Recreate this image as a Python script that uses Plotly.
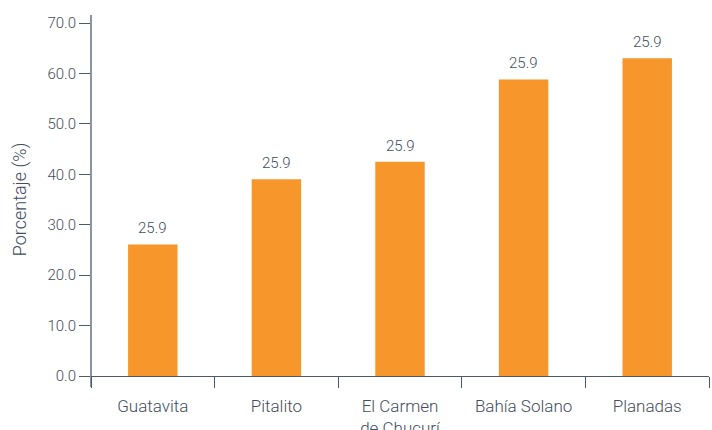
import plotly.graph_objects as go

categories = ["Guatavita", "Pitalito", "El Carmen<br>de Chucurí", "Bahía Solano", "Planadas"]
values = [26.1, 39.0, 42.5, 58.8, 63.0]
labels = ["25.9", "25.9", "25.9", "25.9", "25.9"]
y_ticks = [0, 10, 20, 30, 40, 50, 60, 70]
y_ticktext = ["0.0", "10.0", "20.0", "30.0", "40.0", "50.0", "60.0", "70.0"]

TEXT = "#3f4e5d"
AXIS = "#4b5a69"
BAR = "#f7962b"
FONT = "Roboto"
W = 300

fig = go.Figure()
fig.add_trace(go.Bar(x=categories, y=values, marker=dict(color=BAR, line=dict(width=0)),
                     width=0.4, hoverinfo="skip"))

for c, v, t in zip(categories, values, labels):
    fig.add_annotation(x=c, y=v, text=t, showarrow=False, yanchor="bottom", yshift=5,
                       font=dict(family=FONT, size=15, color=TEXT, weight=W))

fig.add_shape(type="line", xref="paper", yref="paper", x0=0, x1=0, y0=-0.031, y1=1.023,
              line=dict(color=AXIS, width=1.3))

fig.update_layout(
    width=712, height=430,
    margin=dict(l=91, r=3, t=23, b=54),
    plot_bgcolor="white", paper_bgcolor="white",
    showlegend=False,
    font=dict(family=FONT, color=TEXT, size=15, weight=W),
    xaxis=dict(
        showline=True, linecolor=AXIS, linewidth=1.3,
        ticks="outside", ticklen=11, tickcolor=AXIS, tickwidth=1.3,
        tickson="boundaries", showgrid=False, zeroline=False,
        ticklabelstandoff=14, automargin=False,
        tickfont=dict(family=FONT, size=17, color=TEXT, weight=W),
    ),
    yaxis=dict(
        range=[0, 70], tickvals=y_ticks, ticktext=y_ticktext,
        showline=False, ticks="outside", ticklen=11, tickcolor=AXIS, tickwidth=1.3,
        showgrid=False, zeroline=False, automargin=False,
        tickfont=dict(family=FONT, size=15, color=TEXT, weight=W),
        title=dict(text="Porcentaje (%)", font=dict(family=FONT, size=18, color=TEXT, weight=W), standoff=16),
    ),
)

fig.write_html("out.html")
